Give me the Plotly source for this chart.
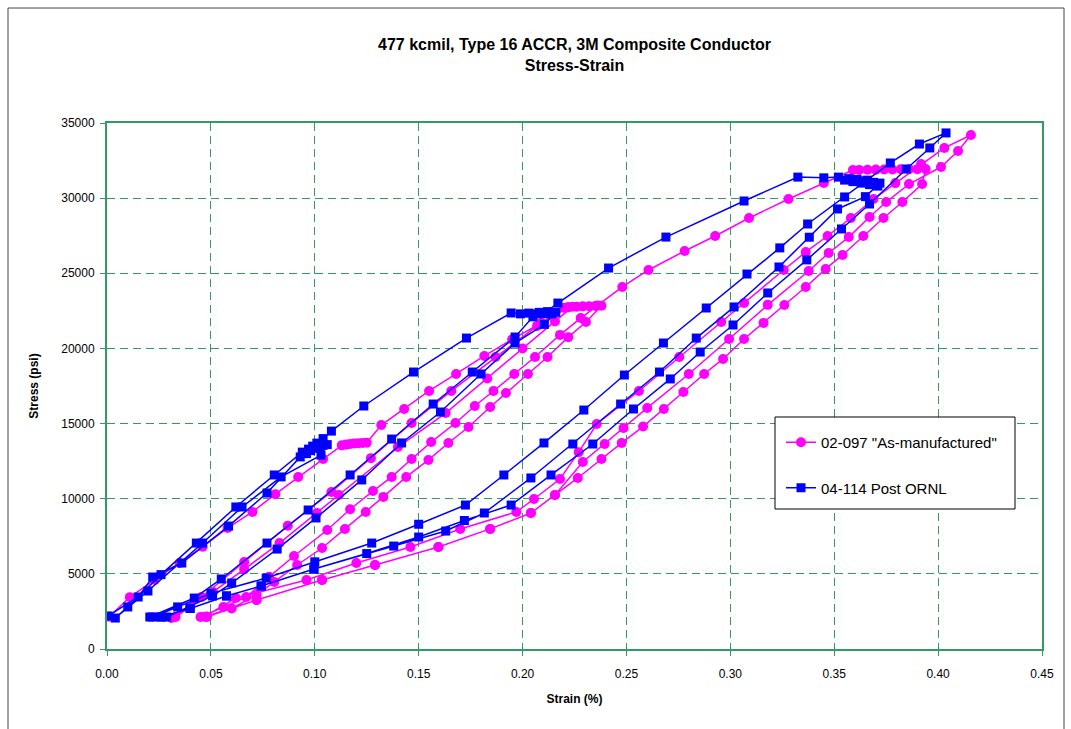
import plotly.graph_objects as go

# ---------------- data: 02-097 "As-manufactured" (strain %, stress psi) ----------------
pink_load1_strain = [0.001, 0.011, 0.023, 0.035, 0.046, 0.058, 0.070, 0.081, 0.092, 0.104, 0.113, 0.115, 0.117,
                     0.119, 0.121, 0.123, 0.125, 0.132, 0.143, 0.155, 0.168, 0.1816, 0.195, 0.209, 0.220, 0.222, 0.224]
pink_load1_stress = [2150, 3450, 4600, 5720, 6800, 8050, 9120, 10300, 11440, 12640, 13550, 13600, 13640,
                     13670, 13690, 13710, 13730, 14900, 15970, 17170, 18300, 19500, 20600, 21700, 22700, 22740, 22770]

pink_unload1_strain = [0.2156, 0.200, 0.183, 0.163, 0.140, 0.1116, 0.101, 0.083, 0.066, 0.051, 0.040, 0.033]
pink_unload1_stress = [21800, 20000, 18000, 15700, 13440, 10250, 9050, 7050, 5300, 3800, 2800, 2130]

pink_reload1_strain = [0.031, 0.0455, 0.066, 0.087, 0.108, 0.127, 0.1466, 0.1657, 0.187, 0.207, 0.222, 0.226,
                       0.229, 0.232, 0.235, 0.238]
pink_reload1_stress = [2060, 3460, 5790, 8200, 10450, 12700, 15040, 17170, 19430, 21500, 22740, 22780,
                       22800, 22810, 22830, 22840]

pink_unload2_strain = [0.2305, 0.222, 0.212, 0.2026, 0.192, 0.1844, 0.174, 0.1643, 0.1547, 0.144, 0.133, 0.1245,
                       0.1145, 0.1035, 0.0915, 0.0805, 0.072, 0.060, 0.048]
pink_unload2_stress = [21760, 20750, 19430, 18300, 17030, 16100, 14770, 13710, 12580, 11450, 10120, 9120,
                       7990, 6720, 5590, 4460, 3600, 2700, 2150]

pink_reload2_strain = [0.045, 0.056, 0.067, 0.078, 0.090, 0.106, 0.117, 0.128, 0.137, 0.1466, 0.156, 0.1677,
                       0.177, 0.186, 0.196, 0.206, 0.218, 0.228, 0.236, 0.248, 0.2606, 0.278, 0.2927, 0.309,
                       0.328, 0.345, 0.359, 0.362, 0.366, 0.370, 0.374, 0.378, 0.382, 0.386, 0.390, 0.394]
pink_reload2_stress = [2130, 2800, 3460, 4800, 6190, 7920, 9300, 10510, 11450, 12640, 13770, 15040,
                       16170, 17170, 18300, 19430, 20900, 22020, 22850, 24090, 25220, 26480, 27480, 28680,
                       29940, 31010, 31870, 31880, 31890, 31900, 31910, 31910, 31920, 31930, 31930, 31940]

pink_unload3_strain = [0.3923, 0.3828, 0.3737, 0.364, 0.354, 0.3459, 0.3363, 0.326, 0.316, 0.3066, 0.2965,
                       0.2874, 0.2774, 0.268, 0.258, 0.2477, 0.238, 0.2266, 0.2156, 0.204, 0.1844, 0.1595,
                       0.129, 0.1035, 0.072, 0.048]
pink_unload3_stress = [30940, 29740, 28680, 27480, 26220, 25290, 24090, 22890, 21700, 20630, 19300,
                       18300, 17100, 15970, 14800, 13710, 12640, 11380, 10250, 9050, 7990, 6790,
                       5590, 4590, 3260, 2150]

pink_reload3_strain = [0.047, 0.062, 0.096, 0.120, 0.146, 0.170, 0.197, 0.2055, 0.218, 0.227, 0.2357, 0.256,
                       0.2754, 0.2956, 0.3066, 0.3257, 0.3363, 0.3468, 0.358, 0.3689, 0.3794, 0.3918, 0.403, 0.4158]
pink_reload3_stress = [2150, 3390, 4590, 5720, 6790, 7990, 9120, 9980, 11310, 13100, 14970, 17170,
                       19430, 21760, 23020, 25220, 26420, 27480, 28680, 29940, 31000, 32270, 33340, 34200]

pink_unload4_strain = [0.4096, 0.4014, 0.386, 0.375, 0.367, 0.357, 0.3473, 0.3377, 0.318, 0.2994, 0.280,
                       0.260, 0.2486, 0.2395, 0.229, 0.2156, 0.204, 0.1844, 0.1595, 0.129, 0.1035, 0.072, 0.048]
pink_unload4_stress = [33140, 32070, 30940, 29740, 28750, 27410, 26350, 25150, 22900, 20630, 18300,
                       16040, 14700, 13640, 12440, 10250, 9050, 7990, 6790, 5590, 4590, 3260, 2150]

# ---------------- data: 04-114 Post ORNL ----------------
blue_load1_strain = [0.0005, 0.015, 0.022, 0.036, 0.0585, 0.077, 0.093, 0.096, 0.098, 0.100, 0.102, 0.104, 0.106]
blue_load1_stress = [2200, 3460, 4790, 5720, 8180, 10380, 12780, 13000, 13200, 13350, 13450, 13550, 13600]

blue_unload1_strain = [0.103, 0.0838, 0.065, 0.046, 0.0197, 0.004]
blue_unload1_stress = [12900, 11450, 9450, 7050, 3860, 2060]

blue_reload1_strain = [0.010, 0.026, 0.043, 0.062, 0.0805, 0.094, 0.097, 0.099, 0.101, 0.104, 0.108, 0.1236,
                       0.1475, 0.173, 0.1945, 0.199, 0.203, 0.206, 0.208, 0.210, 0.212, 0.214, 0.216]
blue_reload1_stress = [2800, 4950, 7050, 9450, 11580, 13100, 13300, 13500, 13700, 14000, 14500, 16170,
                       18430, 20690, 22360, 22300, 22350, 22300, 22400, 22350, 22450, 22300, 22400]

blue_unload2_strain = [0.2105, 0.1964, 0.180, 0.1605, 0.1418, 0.1226, 0.1006, 0.0819, 0.060, 0.0508, 0.0287]
blue_unload2_stress = [21600, 20360, 18300, 15770, 13710, 11250, 8720, 6650, 4390, 3530, 2130]

blue_reload2_strain = [0.0206, 0.042, 0.055, 0.077, 0.0968, 0.117, 0.137, 0.157, 0.1758, 0.1964, 0.205, 0.210,
                       0.217, 0.2414, 0.269, 0.3066, 0.3325, 0.345, 0.352, 0.355, 0.357, 0.359, 0.361, 0.363,
                       0.365, 0.367, 0.369, 0.371, 0.372]
blue_reload2_stress = [2130, 3390, 4660, 7050, 9250, 11580, 13970, 16300, 18430, 20760, 22100, 22300,
                       23020, 25350, 27410, 29810, 31400, 31350, 31400, 31200, 31300, 31100, 31250, 31000,
                       31150, 30900, 31050, 30800, 31000]

blue_unload3_strain = [0.365, 0.3516, 0.338, 0.3234, 0.3018, 0.2836, 0.2659, 0.2472, 0.2242, 0.204, 0.1816,
                       0.163, 0.138, 0.0996, 0.0742, 0.0575, 0.040, 0.026]
blue_unload3_stress = [30100, 29280, 27400, 25420, 22760, 20690, 18430, 16300, 13640, 11380, 9050,
                       7850, 6850, 5320, 4190, 3530, 2700, 2130]

blue_reload3_strain = [0.022, 0.034, 0.050, 0.0766, 0.100, 0.1274, 0.150, 0.1725, 0.191, 0.2103, 0.2295, 0.249,
                       0.2678, 0.2884, 0.308, 0.3238, 0.3372, 0.355, 0.366, 0.377, 0.391, 0.4038]
blue_reload3_stress = [2130, 2800, 3700, 4720, 5800, 7050, 8300, 9580, 11580, 13710, 15900, 18230,
                       20360, 22690, 24950, 26690, 28280, 30080, 31200, 32340, 33600, 34340]

blue_unload4_strain = [0.396, 0.3847, 0.367, 0.3535, 0.3368, 0.318, 0.3013, 0.2855, 0.2711, 0.2534, 0.2338,
                       0.2137, 0.1945, 0.172, 0.150, 0.125, 0.0996, 0.0742, 0.0575, 0.040, 0.026]
blue_unload4_stress = [33340, 31940, 29610, 27950, 25890, 23690, 21560, 19760, 17970, 15970, 13640,
                       11580, 9580, 8550, 7450, 6350, 5320, 4190, 3530, 2700, 2130]

x_ticks = [0.00, 0.05, 0.10, 0.15, 0.20, 0.25, 0.30, 0.35, 0.40, 0.45]
y_ticks = [0, 5000, 10000, 15000, 20000, 25000, 30000, 35000]

pink_x = (pink_load1_strain + pink_unload1_strain + pink_reload1_strain + pink_unload2_strain +
          pink_reload2_strain + pink_unload3_strain + pink_reload3_strain + pink_unload4_strain)
pink_y = (pink_load1_stress + pink_unload1_stress + pink_reload1_stress + pink_unload2_stress +
          pink_reload2_stress + pink_unload3_stress + pink_reload3_stress + pink_unload4_stress)
blue_x = (blue_load1_strain + blue_unload1_strain + blue_reload1_strain + blue_unload2_strain +
          blue_reload2_strain + blue_unload3_strain + blue_reload3_strain + blue_unload4_strain)
blue_y = (blue_load1_stress + blue_unload1_stress + blue_reload1_stress + blue_unload2_stress +
          blue_reload2_stress + blue_unload3_stress + blue_reload3_stress + blue_unload4_stress)

FONT = "Liberation Sans, Arial, sans-serif"
GREEN = "#339966"

fig = go.Figure()
fig.add_trace(go.Scatter(
    x=pink_x, y=pink_y, mode="lines+markers", name='02-097 "As-manufactured"',
    line=dict(color="#FF00FF", width=1.5),
    marker=dict(symbol="circle", size=10, color="#FF00FF"),
    legendgroup="a"))
fig.add_trace(go.Scatter(
    x=blue_x, y=blue_y, mode="lines+markers", name="04-114 Post ORNL",
    line=dict(color="#0000FF", width=1.5),
    marker=dict(symbol="square", size=9, color="#0000FF"),
    legendgroup="b"))

L, R, T, B = 107, 29, 123, 80
W, H = 1071, 729
pw, ph = W - L - R, H - T - B

def px_x(px):
    return (px - L) / pw

def px_y(py):
    return (H - B - py) / ph

fig.update_layout(
    width=W, height=H,
    margin=dict(l=L, r=R, t=T, b=B),
    paper_bgcolor="white", plot_bgcolor="white",
    font=dict(family=FONT, size=12, color="black"),
    title=dict(text="<b>477 kcmil, Type 16 ACCR, 3M Composite Conductor<br>Stress-Strain</b>",
               x=0.5, xref="paper", xanchor="center", y=1 - 50 / H, yanchor="middle",
               font=dict(family=FONT, size=16, color="black")),
    showlegend=True,
    legend=dict(x=px_x(781), y=px_y(426), xanchor="left", yanchor="top",
                bgcolor="rgba(0,0,0,0)", borderwidth=0,
                font=dict(family=FONT, size=15, color="black"),
                tracegroupgap=23),
    shapes=[
        dict(type="rect", xref="paper", yref="paper", x0=px_x(8), x1=px_x(1064), y0=px_y(745), y1=px_y(8),
             line=dict(color="#444444", width=1), layer="below"),
        dict(type="rect", xref="paper", yref="paper", x0=px_x(775), x1=px_x(1015), y0=px_y(509), y1=px_y(417),
             line=dict(color="black", width=1), fillcolor="white", layer="above"),
    ],
)
fig.update_xaxes(range=[0, 0.45], tickvals=x_ticks, ticktext=["%.2f" % v for v in x_ticks],
                 showgrid=True, gridcolor=GREEN, griddash="8px,5px", gridwidth=1,
                 showline=True, linecolor=GREEN, linewidth=2, mirror=True,
                 ticks="outside", ticklen=5, tickcolor=GREEN, zeroline=False, ticklabelstandoff=8,
                 title=dict(text="<b>Strain (%)</b>", font=dict(family=FONT, size=12), standoff=14),
                 tickfont=dict(family=FONT, size=12))
fig.update_yaxes(range=[0, 35000], tickvals=y_ticks, ticktext=[str(v) for v in y_ticks],
                 showgrid=True, gridcolor=GREEN, griddash="8px,5px", gridwidth=1,
                 showline=True, linecolor=GREEN, linewidth=2, mirror=True,
                 ticks="outside", ticklen=5, tickcolor=GREEN, zeroline=False, ticklabelstandoff=3,
                 title=dict(text="<b>Stress (psi)</b>", font=dict(family=FONT, size=12), standoff=20),
                 tickfont=dict(family=FONT, size=12))

fig.write_html("out.html")
